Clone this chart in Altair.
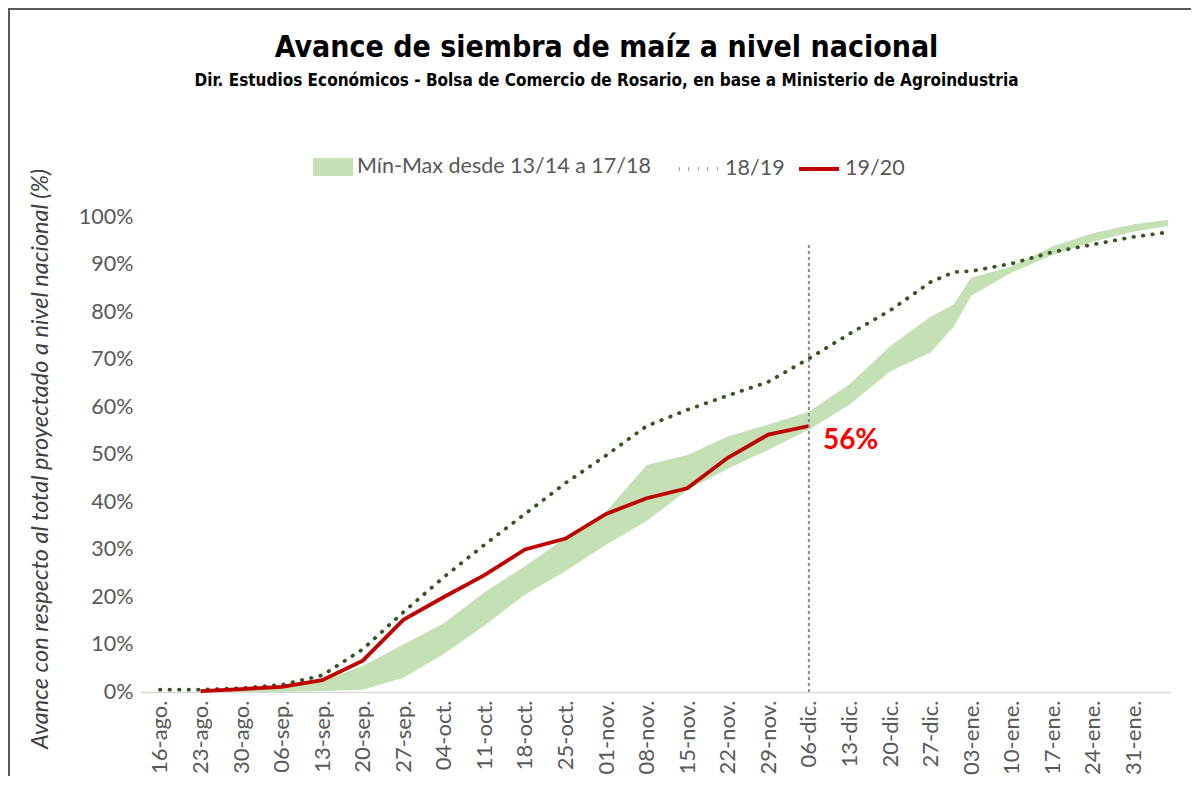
import altair as alt
import pandas as pd

# ---------------- data ----------------
week_labels = ["16-ago.", "23-ago.", "30-ago.", "06-sep.", "13-sep.", "20-sep.", "27-sep.",
               "04-oct.", "11-oct.", "18-oct.", "25-oct.", "01-nov.", "08-nov.", "15-nov.",
               "22-nov.", "29-nov.", "06-dic.", "13-dic.", "20-dic.", "27-dic.", "03-ene.",
               "10-ene.", "17-ene.", "24-ene.", "31-ene."]
tick_days = [0, 7, 14, 21, 28, 35, 42, 49, 56, 63, 70, 77, 84, 91, 98, 105, 112, 119,
             126, 133, 140, 147, 154, 161, 168]

# days counted from 16-ago
band_days = [0, 7, 14, 21, 28, 35, 42, 49, 56, 63, 70, 77, 84, 91, 98, 105, 112, 119,
             126, 133, 137, 140, 147, 154, 161, 168, 174]
band_min = [0, 0, 0, 0, 0.2, 0.5, 3.0, 8.0, 14.0, 20.5, 25.5, 31.0, 36.0, 42.5, 47.0, 51.0,
            55.2, 60.5, 67.5, 71.5, 76.9, 83.4, 88.3, 92.0, 94.8, 96.9, 98.1]
band_max = [0, 0, 0.3, 1.0, 2.3, 5.5, 10.0, 14.5, 21.0, 26.5, 32.5, 38.0, 47.8, 49.9, 53.8,
            56.3, 59.0, 64.8, 72.8, 79.0, 81.6, 87.2, 89.6, 93.8, 96.6, 98.5, 99.4]

prev_days = [0, 7, 14, 21, 28, 35, 42, 49, 56, 63, 70, 77, 84, 91, 98, 105, 112, 119,
             126, 133, 137, 140, 147, 154, 161, 168, 174]
prev_vals = [0.5, 0.5, 0.8, 1.5, 3.5, 9.0, 16.8, 24.2, 31.0, 37.5, 44.0, 49.8, 56.0, 59.4,
             62.4, 65.3, 70.2, 75.4, 80.3, 86.3, 88.4, 88.6, 90.2, 92.6, 94.2, 95.8, 96.8]

curr_days = [7, 14, 21, 28, 35, 42, 49, 56, 63, 70, 77, 84, 91, 98, 105, 112]
curr_vals = [0.2, 0.6, 1.1, 2.5, 6.6, 15.2, 20.0, 24.6, 30.0, 32.3, 37.5, 40.8, 42.9,
             49.3, 54.2, 56.0]

marker_day = [112]
marker_top = [94.5]
label_val = [56.0]

SER_BAND = "Mín-Max desde 13/14 a 17/18"
SER_PREV = "18/19"
SER_CURR = "19/20"
band_c, prev_c, curr_c = "#c5e0b4", "#375623", "#c00000"

# ---------------- tables ----------------
band_df = pd.DataFrame({"day": band_days, "lo": [v / 100 for v in band_min],
                        "hi": [v / 100 for v in band_max], "s_band": SER_BAND})
prev_df = pd.DataFrame({"day": prev_days, "val": [v / 100 for v in prev_vals], "s_prev": SER_PREV})
curr_df = pd.DataFrame({"day": curr_days, "val": [v / 100 for v in curr_vals], "s_curr": SER_CURR})
mark_df = pd.DataFrame({"day": marker_day, "top": [v / 100 for v in marker_top], "bot": [0.0]})
lab_df = pd.DataFrame({"day": marker_day, "val": [v / 100 for v in label_val],
                       "txt": [f"{int(round(v))}%" for v in label_val]})

W, H = 1031, 475
PAD = {"left": 132, "top": 209, "right": 20, "bottom": 84}
FONT = "Lato"
TFONT = "Liberation Sans Narrow, DejaVu Sans Condensed, sans-serif"

label_array = "[" + ",".join(f"'{w}'" for w in week_labels) + "]"

x_scale = alt.Scale(domain=[-3.45, 174.5], nice=False, zero=False)
y_scale = alt.Scale(domain=[0, 1], nice=False)

x_axis = alt.Axis(values=tick_days, labelExpr=f"{label_array}[round(datum.value/7)]",
                  labelAngle=270, labelFontSize=22, labelColor="#595959", labelFont=FONT,
                  ticks=False, domain=True, domainColor="#d9d9d9", domainWidth=1.5,
                  grid=False, title=None, labelPadding=8, labelOverlap=False, labelFlush=False)
y_axis = alt.Axis(values=[i / 10 for i in range(11)], format=".0%", labelFontSize=21.5,
                  labelColor="#595959", labelFont=FONT, labelPadding=7, ticks=False,
                  domain=False, grid=False, labelFlush=False,
                  title="Avance con respecto al total proyectado a nivel nacional (%)",
                  titleFont=FONT, titleFontStyle="italic", titleFontWeight="normal",
                  titleFontSize=23.5, titleColor="#404040", titleX=-100, titleY=H / 2 + 4,
                  titleAngle=270, titleAlign="center", titleBaseline="middle")

LEG_Y = -70
leg_common = dict(orient="none", legendY=LEG_Y, title=None, symbolSize=1600,
                  labelFontSize=21.5, labelFont=FONT, labelColor="#595959", labelOffset=4,
                  labelLimit=500)

band = alt.Chart(band_df).mark_area(opacity=1).encode(
    x=alt.X("day:Q", scale=x_scale, axis=x_axis),
    y=alt.Y("lo:Q", scale=y_scale, axis=y_axis),
    y2="hi:Q",
    fill=alt.Fill("s_band:N", scale=alt.Scale(domain=[SER_BAND], range=[band_c]),
                  legend=alt.Legend(legendX=173, symbolType="M-1,-0.45H1V0.45H-1Z",
                                    symbolFillColor=band_c, symbolStrokeWidth=0, **leg_common)),
)
prev = alt.Chart(prev_df).mark_line(strokeWidth=3.8, color=prev_c, strokeCap="round").encode(
    x="day:Q", y="val:Q",
    strokeDash=alt.StrokeDash("s_prev:N", scale=alt.Scale(domain=[SER_PREV], range=[[0.5, 9]]),
                              legend=alt.Legend(legendX=537, symbolType="stroke",
                                                symbolStrokeColor=prev_c, symbolStrokeWidth=3.8,
                                                **leg_common)))
curr = alt.Chart(curr_df).mark_line(strokeWidth=3.8).encode(
    x="day:Q", y="val:Q",
    stroke=alt.Stroke("s_curr:N", scale=alt.Scale(domain=[SER_CURR], range=[curr_c]),
                      legend=alt.Legend(legendX=657, symbolType="stroke",
                                        symbolStrokeWidth=3.8, **leg_common)))
vline = alt.Chart(mark_df).mark_rule(color="#8c8c8c", strokeWidth=2, strokeDash=[3, 3]).encode(
    x="day:Q", y="bot:Q", y2="top:Q")
ann = alt.Chart(lab_df).mark_text(align="left", baseline="middle", dx=14, dy=15,
                                  font=FONT, fontSize=28, fontWeight="bold", color="#ff0000").encode(
    x="day:Q", y="val:Q", text="txt:N")

frame_top = alt.Chart(lab_df).mark_rule(color="#595959", strokeWidth=2).encode(
    x=alt.value(-PAD["left"]), x2=alt.value(W + PAD["right"]), y=alt.value(-PAD["top"] + 1))
frame_left = alt.Chart(lab_df).mark_rule(color="#595959", strokeWidth=2).encode(
    x=alt.value(-PAD["left"] + 1), y=alt.value(-PAD["top"]), y2=alt.value(H + PAD["bottom"]))

chart = alt.layer(band, prev, curr, vline, ann, frame_top, frame_left).properties(
    width=W, height=H,
    padding=PAD,
    autosize=alt.AutoSizeParams(type="none"),
    background="white",
    title=alt.TitleParams(
        text="Avance de siembra de maíz a nivel nacional",
        subtitle="Dir. Estudios Económicos - Bolsa de Comercio de Rosario, en base a Ministerio de Agroindustria",
        font=TFONT, fontSize=30, fontWeight="bold", color="black",
        subtitleFont=TFONT, subtitleFontSize=17, subtitleFontWeight="bold", subtitleColor="black",
        subtitlePadding=10, anchor="middle", frame="group", dx=-49, dy=82, offset=0),
).configure_view(stroke=None)

chart.save("out.html", embed_options={"renderer": "svg", "actions": False})
